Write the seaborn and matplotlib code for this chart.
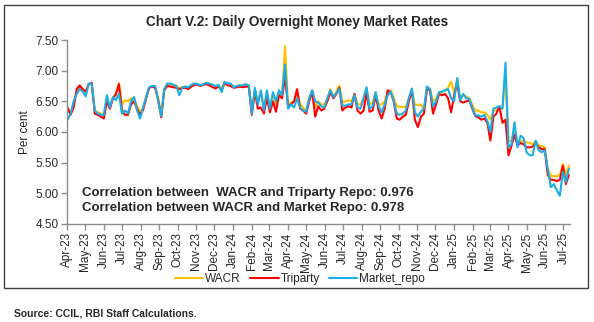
import numpy as np
import pandas as pd
import matplotlib
matplotlib.use("Agg")
import matplotlib.pyplot as plt
import matplotlib.dates as mdates
from matplotlib.patches import Rectangle
import seaborn as sns

# ---- data (one value every 5 days from 2023-04-02) ----
start_date = "2023-04-02"
step = "5D"

wacr = [6.35, 6.30, 6.45, 6.65, 6.72, 6.68, 6.65, 6.78, 6.78, 6.35,
        6.32, 6.30, 6.28, 6.55, 6.40, 6.55, 6.60, 6.80, 6.45, 6.52,
        6.50, 6.55, 6.55, 6.43, 6.32, 6.40, 6.57, 6.72, 6.75, 6.74,
        6.55, 6.28, 6.70, 6.77, 6.78, 6.76, 6.76, 6.70, 6.73, 6.74,
        6.73, 6.76, 6.79, 6.78, 6.76, 6.78, 6.80, 6.78, 6.76, 6.75,
        6.76, 6.70, 6.80, 6.78, 6.78, 6.73, 6.75, 6.76, 6.75, 6.77,
        6.76, 6.32, 6.68, 6.50, 6.65, 6.40, 6.65, 6.40, 6.62, 6.45,
        6.65, 6.60, 7.40, 6.45, 6.48, 6.50, 6.65, 6.45, 6.40, 6.35,
        6.55, 6.68, 6.40, 6.50, 6.45, 6.45, 6.55, 6.70, 6.58, 6.65,
        6.76, 6.48, 6.50, 6.52, 6.50, 6.62, 6.45, 6.45, 6.55, 6.70,
        6.45, 6.48, 6.65, 6.45, 6.45, 6.50, 6.65, 6.68, 6.55, 6.42,
        6.41, 6.41, 6.41, 6.55, 6.70, 6.45, 6.44, 6.45, 6.35, 6.72,
        6.70, 6.50, 6.55, 6.65, 6.65, 6.68, 6.72, 6.82, 6.65, 6.85,
        6.55, 6.60, 6.58, 6.55, 6.45, 6.35, 6.35, 6.32, 6.32, 6.28,
        6.20, 6.35, 6.35, 6.40, 6.38, 6.90, 5.85, 5.86, 6.05, 5.82,
        5.86, 5.85, 5.83, 5.82, 5.80, 5.85, 5.78, 5.77, 5.75, 5.40,
        5.28, 5.28, 5.28, 5.30, 5.48, 5.30, 5.45]

triparty = [6.40, 6.28, 6.40, 6.70, 6.76, 6.70, 6.66, 6.78, 6.80, 6.30,
            6.28, 6.25, 6.22, 6.50, 6.38, 6.55, 6.62, 6.78, 6.35, 6.28,
            6.28, 6.45, 6.50, 6.38, 6.28, 6.36, 6.55, 6.72, 6.74, 6.72,
            6.52, 6.24, 6.68, 6.75, 6.74, 6.73, 6.72, 6.70, 6.72, 6.72,
            6.70, 6.74, 6.77, 6.77, 6.75, 6.77, 6.78, 6.76, 6.73, 6.71,
            6.74, 6.68, 6.80, 6.76, 6.75, 6.72, 6.73, 6.74, 6.73, 6.74,
            6.74, 6.28, 6.66, 6.38, 6.40, 6.30, 6.55, 6.32, 6.50, 6.33,
            6.60, 6.55, 6.90, 6.42, 6.45, 6.50, 6.70, 6.38, 6.35, 6.30,
            6.50, 6.66, 6.25, 6.42, 6.35, 6.38, 6.50, 6.65, 6.55, 6.62,
            6.72, 6.35, 6.40, 6.42, 6.40, 6.62, 6.35, 6.30, 6.35, 6.65,
            6.33, 6.35, 6.60, 6.35, 6.22, 6.38, 6.68, 6.65, 6.50, 6.22,
            6.20, 6.25, 6.28, 6.50, 6.68, 6.20, 6.08, 6.25, 6.30, 6.70,
            6.68, 6.30, 6.45, 6.62, 6.60, 6.62, 6.55, 6.32, 6.60, 6.80,
            6.50, 6.48, 6.50, 6.52, 6.38, 6.26, 6.24, 6.20, 6.22, 6.15,
            5.86, 6.25, 6.30, 6.42, 6.15, 6.20, 5.62, 5.78, 5.95, 5.78,
            5.82, 5.80, 5.75, 5.75, 5.76, 5.82, 5.75, 5.72, 5.72, 5.30,
            5.22, 5.22, 5.20, 5.22, 5.45, 5.15, 5.30]

market_repo = [6.20, 6.30, 6.50, 6.62, 6.70, 6.66, 6.58, 6.79, 6.78, 6.35,
               6.30, 6.28, 6.28, 6.60, 6.40, 6.57, 6.52, 6.62, 6.30, 6.35,
               6.30, 6.50, 6.57, 6.35, 6.22, 6.40, 6.57, 6.73, 6.75, 6.75,
               6.50, 6.26, 6.70, 6.79, 6.79, 6.77, 6.75, 6.60, 6.73, 6.74,
               6.73, 6.77, 6.79, 6.78, 6.76, 6.78, 6.80, 6.79, 6.77, 6.75,
               6.77, 6.65, 6.82, 6.79, 6.79, 6.73, 6.75, 6.76, 6.76, 6.78,
               6.76, 6.30, 6.72, 6.45, 6.68, 6.35, 6.68, 6.38, 6.65, 6.50,
               6.68, 6.60, 7.10, 6.38, 6.45, 6.40, 6.55, 6.40, 6.35, 6.33,
               6.55, 6.68, 6.50, 6.48, 6.42, 6.40, 6.55, 6.68, 6.57, 6.63,
               6.70, 6.43, 6.43, 6.45, 6.45, 6.60, 6.40, 6.38, 6.55, 6.73,
               6.38, 6.42, 6.65, 6.42, 6.32, 6.45, 6.60, 6.66, 6.50, 6.30,
               6.28, 6.30, 6.35, 6.55, 6.71, 6.32, 6.25, 6.33, 6.38, 6.74,
               6.70, 6.42, 6.50, 6.65, 6.66, 6.68, 6.70, 6.55, 6.50, 6.88,
               6.52, 6.62, 6.55, 6.54, 6.40, 6.27, 6.27, 6.25, 6.28, 6.18,
               6.00, 6.38, 6.40, 6.42, 6.38, 7.13, 5.75, 5.80, 6.16, 5.75,
               5.94, 5.90, 5.67, 5.62, 5.62, 5.86, 5.70, 5.67, 5.70, 5.40,
               5.10, 5.15, 5.05, 4.96, 5.35, 5.18, 5.40]

series_names = ["WACR", "Triparty", "Market_repo"]
series_colors = ["#FFC000", "#FF0000", "#1AAEE8"]
y_ticks = [4.50, 5.00, 5.50, 6.00, 6.50, 7.00, 7.50]

title = "Chart V.2: Daily Overnight Money Market Rates"
corr_lines = ["Correlation between  WACR and Triparty Repo: 0.976",
              "Correlation between WACR and Market Repo: 0.978"]
source = "Source: CCIL, RBI Staff Calculations."

# ---- build long-form table ----
dates = pd.date_range(start_date, periods=len(wacr), freq=step)
frames = []
for name, vals in zip(series_names, [wacr, triparty, market_repo]):
    frames.append(pd.DataFrame({"date": dates, "value": vals, "series": name}))
df = pd.concat(frames, ignore_index=True)

# ---- plot ----
sns.set_theme(style="white")
plt.rcParams["font.family"] = ["Liberation Sans", "DejaVu Sans"]

fig = plt.figure(figsize=(5.94, 3.22), dpi=100)
ax = fig.add_axes([67 / 594, 1 - 224 / 322, (569.5 - 67) / 594, (224 - 40) / 322])

sns.lineplot(data=df, x="date", y="value", hue="series", hue_order=series_names,
             palette=dict(zip(series_names, series_colors)), linewidth=1.5,
             ax=ax, legend=True)

ax.set_xlim(pd.Timestamp("2023-04-01"), pd.Timestamp("2025-07-11"))
ax.set_ylim(4.5, 7.5)
ax.set_yticks(y_ticks)
ax.set_yticklabels([f"{v:.2f}" for v in y_ticks], fontsize=8.5)
ax.xaxis.set_major_locator(mdates.MonthLocator())
ax.xaxis.set_major_formatter(mdates.DateFormatter("%b-%y"))
for lbl in ax.get_xticklabels():
    lbl.set_rotation(90)
    lbl.set_fontsize(8.5)
ax.set_xlabel("")
ax.set_ylabel("Per cent", fontsize=8.5, labelpad=3)

for s in ["top", "right"]:
    ax.spines[s].set_visible(False)
for s in ["left", "bottom"]:
    ax.spines[s].set_color("#8C8C8C")
    ax.spines[s].set_linewidth(1.0)
ax.tick_params(axis="both", which="major", direction="out", length=4, width=1,
               color="#8C8C8C", pad=2, left=True, bottom=True)

# correlation notes, positioned in display pixels (origin bottom-left)
for i, t in enumerate(corr_lines):
    ax.text(82, 322 - (193 + 15 * i), t, transform=None, fontsize=9.5,
            fontweight="bold", va="center", ha="left")

leg = ax.legend(loc="center", bbox_to_anchor=(300 / 594, 1 - 279 / 322),
                bbox_transform=fig.transFigure, ncol=3, frameon=False,
                fontsize=8.5, handlelength=2.4, handletextpad=0.15,
                columnspacing=0.8)
for h in leg.get_lines():
    h.set_linewidth(1.5)

fig.text(297 / 594, 1 - 22 / 322, title, ha="center", va="center",
         fontsize=9.8, fontweight="bold")
fig.text(14 / 594, 1 - 314 / 322, source, ha="left", va="center",
         fontsize=7.5, fontweight="bold")

fig.patches.append(Rectangle((4 / 594, 1 - 288 / 322), 584 / 594, 283 / 322,
                             transform=fig.transFigure, fill=False,
                             edgecolor="#404040", linewidth=1.0))

fig.savefig("out.png", dpi=100)
